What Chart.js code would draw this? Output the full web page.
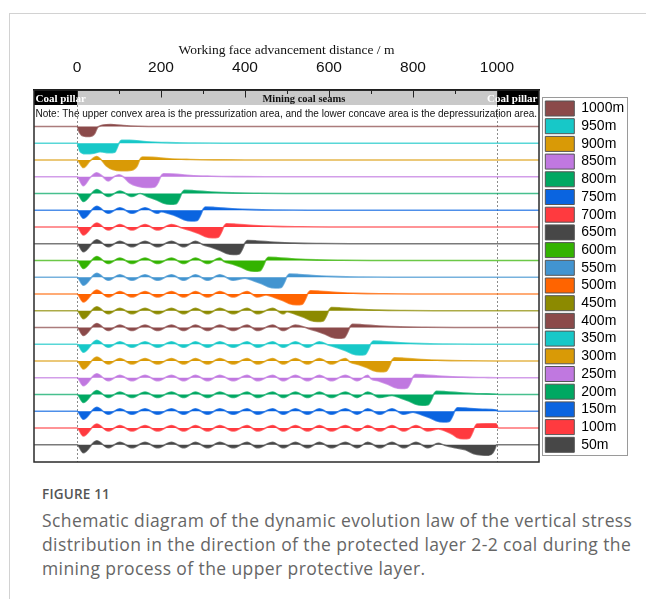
<!DOCTYPE html>
<html>
<head>
<meta charset="utf-8">
<script src="https://cdn.jsdelivr.net/npm/chart.js@4.4.1/dist/chart.umd.min.js"></script>
<style>
  html, body { margin: 0; padding: 0; background: #fff; width: 646px; height: 599px; overflow: hidden; position: relative; }
  #frame { position: absolute; left: 9px; top: 13px; right: -2px; bottom: -2px; border-left: 1px solid #d2d2d2; border-top: 1px solid #d2d2d2; }
  #wrap { position: absolute; left: 0; top: 0; width: 646px; height: 470px; }
  .fig { position: absolute; left: 42px; top: 485px; font: 600 13.5px "Open Sans", sans-serif; color: #555; letter-spacing: 0.2px; }
  .cap { position: absolute; left: 42px; top: 508px; font: 17.5px/24px "Open Sans", sans-serif; color: #666; letter-spacing: 0.4px; white-space: nowrap; }
</style>
</head>
<body>
<div id="frame"></div>
<div id="wrap"><canvas id="c" width="646" height="470"></canvas></div>
<div class="fig">FIGURE 11</div>
<div class="cap">Schematic diagram of the dynamic evolution law of the vertical stress<br>distribution in the direction of the protected layer 2-2 coal during the<br>mining process of the upper protective layer.</div>
<script>
// Legend entries, top to bottom
const legendLabels = ['1000m','950m','900m','850m','800m','750m','700m','650m','600m','550m',
                      '500m','450m','400m','350m','300m','250m','200m','150m','100m','50m'];

// Horizontal axis (advance distance, m)
const distanceRange = [-102.4, 1100];
const axisTicks = [0, 100, 200, 300, 400, 500, 600, 700, 800, 900, 1000];

// Vertical stress profiles along the seam: [distance m, stress change] (+ = pressurization, - = depressurization)
const p1000m = [[-102,0],[0,0],[6,-6],[15,-9.5],[30,-10],[42,-7],[48,-1.5],[52,0],[62,1.5],[80,2],[110,1],[145,0.3],[200,0],[1100,0]];
const p950m = [[-102,0],[0,0],[7,-8],[20,-10.5],[40,-10],[55,-8.5],[75,-9.5],[90,-9],[96,-4],[100,0],[106,3],[125,3],[165,1.5],[215,0.6],[280,0.2],[350,0],[1100,0]];
const p900m = [[-102,0],[0,0],[15,-7.5],[31,-1],[47,3.5],[58,0],[70,-6],[85,-9.5],[105,-10.8],[130,-10.2],[143,-6],[149,0],[156,3],[180,2.8],[220,1.2],[270,0.5],[330,0.15],[400,0],[1100,0]];
const p850m = [[-102,0],[0,0],[15,-9],[31,-1],[47,4],[62,0],[74,-4.3],[88,0],[100,2],[110,0],[125,-6],[145,-9.5],[165,-10.8],[185,-10.2],[194,-5],[199,0],[206,3],[230,2.8],[270,1.2],[320,0.5],[380,0.15],[450,0],[1100,0]];
const p800m = [[-102,0],[0,0],[15,-8],[47,4],[74,-3],[102,2.5],[131,-3],[150,0],[170,-3.5],[190,-6.5],[205,-9.5],[222,-10.8],[236,-10.2],[244,-5],[249,0],[256,3.2],[278,2.8],[320,1.5],[370,0.6],[430,0.2],[500,0],[1100,0]];
const p750m = [[-102,0],[0,0],[15,-8],[47,4],[74,-3],[102,2.5],[131,-3],[162,2.5],[192,-3],[200,-1.5],[220,-3.5],[240,-6.5],[255,-9.5],[272,-10.8],[286,-10.2],[294,-5],[299,0],[306,3.2],[328,2.8],[370,1.5],[420,0.6],[480,0.2],[550,0],[1100,0]];
const p700m = [[-102,0],[0,0],[15,-8],[47,4],[74,-3],[102,2.5],[131,-3],[162,2.5],[192,-3],[225,2.5],[250,-1],[270,-3.5],[290,-6.5],[305,-9.5],[322,-10.8],[336,-10.2],[344,-5],[349,0],[356,3.2],[378,2.8],[420,1.5],[470,0.6],[530,0.2],[600,0],[1100,0]];
const p650m = [[-102,0],[0,0],[15,-8],[47,4],[74,-3],[102,2.5],[131,-3],[162,2.5],[192,-3],[225,2.5],[254,-3],[282,2.5],[300,-1],[320,-3.5],[340,-6.5],[355,-9.5],[372,-10.8],[386,-10.2],[394,-5],[399,0],[406,3.2],[428,2.8],[470,1.5],[520,0.6],[580,0.2],[650,0],[1100,0]];
const p600m = [[-102,0],[0,0],[15,-8],[47,4],[74,-3],[102,2.5],[131,-3],[162,2.5],[192,-3],[225,2.5],[254,-3],[282,2.5],[311,-3],[340,2.5],[350,-1],[370,-3.5],[390,-6.5],[405,-9.5],[422,-10.8],[436,-10.2],[444,-5],[449,0],[456,3.2],[478,2.8],[520,1.5],[570,0.6],[630,0.2],[700,0],[1100,0]];
const p550m = [[-102,0],[0,0],[15,-8],[47,4],[74,-3],[102,2.5],[131,-3],[162,2.5],[192,-3],[225,2.5],[254,-3],[282,2.5],[311,-3],[340,2.5],[372,-3],[400,-1],[420,-3.5],[440,-6.5],[455,-9.5],[472,-10.8],[486,-10.2],[494,-5],[499,0],[506,3.2],[528,2.8],[570,1.5],[620,0.6],[680,0.2],[750,0],[1100,0]];
const p500m = [[-102,0],[0,0],[15,-8],[47,4],[74,-3],[102,2.5],[131,-3],[162,2.5],[192,-3],[225,2.5],[254,-3],[282,2.5],[311,-3],[340,2.5],[372,-3],[405,2.5],[430,-3],[450,-1],[470,-3.5],[490,-6.5],[505,-9.5],[522,-10.8],[536,-10.2],[544,-5],[549,0],[556,3.2],[578,2.8],[620,1.5],[670,0.6],[730,0.2],[800,0],[1100,0]];
const p450m = [[-102,0],[0,0],[15,-8],[47,4],[74,-3],[102,2.5],[131,-3],[162,2.5],[192,-3],[225,2.5],[254,-3],[282,2.5],[311,-3],[340,2.5],[372,-3],[405,2.5],[430,-3],[466,2.5],[491,-3],[500,-1],[520,-3.5],[540,-6.5],[555,-9.5],[572,-10.8],[586,-10.2],[594,-5],[599,0],[606,3.2],[628,2.8],[670,1.5],[720,0.6],[780,0.2],[850,0],[1100,0]];
const p400m = [[-102,0],[0,0],[15,-8],[47,4],[74,-3],[102,2.5],[131,-3],[162,2.5],[192,-3],[225,2.5],[254,-3],[282,2.5],[311,-3],[340,2.5],[372,-3],[405,2.5],[430,-3],[466,2.5],[491,-3],[520,2.5],[550,-1],[570,-3.5],[590,-6.5],[605,-9.5],[622,-10.8],[636,-10.2],[644,-5],[649,0],[656,3.2],[678,2.8],[720,1.5],[770,0.6],[830,0.2],[900,0],[1100,0]];
const p350m = [[-102,0],[0,0],[15,-8],[47,4],[74,-3],[102,2.5],[131,-3],[162,2.5],[192,-3],[225,2.5],[254,-3],[282,2.5],[311,-3],[340,2.5],[372,-3],[405,2.5],[430,-3],[466,2.5],[491,-3],[520,2.5],[549,-3],[577,2.5],[600,-1],[620,-3.5],[640,-6.5],[655,-9.5],[672,-10.8],[686,-10.2],[694,-5],[699,0],[706,3.2],[728,2.8],[770,1.5],[820,0.6],[880,0.2],[950,0],[1100,0]];
const p300m = [[-102,0],[0,0],[15,-8],[47,4],[74,-3],[102,2.5],[131,-3],[162,2.5],[192,-3],[225,2.5],[254,-3],[282,2.5],[311,-3],[340,2.5],[372,-3],[405,2.5],[430,-3],[466,2.5],[491,-3],[520,2.5],[549,-3],[577,2.5],[606,-3],[639,2.5],[650,-1],[670,-3.5],[690,-6.5],[705,-9.5],[722,-10.8],[736,-10.2],[744,-5],[749,0],[756,3.2],[778,2.8],[820,1.5],[870,0.6],[930,0.2],[1000,0],[1100,0]];
const p250m = [[-102,0],[0,0],[15,-8],[47,4],[74,-3],[102,2.5],[131,-3],[162,2.5],[192,-3],[225,2.5],[254,-3],[282,2.5],[311,-3],[340,2.5],[372,-3],[405,2.5],[430,-3],[466,2.5],[491,-3],[520,2.5],[549,-3],[577,2.5],[606,-3],[639,2.5],[668,-3],[692,2.5],[700,-1],[720,-3.5],[740,-6.5],[755,-9.5],[772,-10.8],[786,-10.2],[794,-5],[799,0],[806,3.2],[828,2.8],[870,1.5],[920,0.6],[970,0.2],[1000,0],[1100,0]];
const p200m = [[-102,0],[0,0],[15,-8],[47,4],[74,-3],[102,2.5],[131,-3],[162,2.5],[192,-3],[225,2.5],[254,-3],[282,2.5],[311,-3],[340,2.5],[372,-3],[405,2.5],[430,-3],[466,2.5],[491,-3],[520,2.5],[549,-3],[577,2.5],[606,-3],[639,2.5],[668,-3],[692,2.5],[721,-3],[750,-1],[770,-3.5],[790,-6.5],[805,-9.5],[822,-10.8],[836,-10.2],[844,-5],[849,0],[856,3.2],[878,2.8],[920,1.5],[960,0.7],[1000,0.3],[1004,0],[1100,0]];
const p150m = [[-102,0],[0,0],[15,-8],[47,4],[74,-3],[102,2.5],[131,-3],[162,2.5],[192,-3],[225,2.5],[254,-3],[282,2.5],[311,-3],[340,2.5],[372,-3],[405,2.5],[430,-3],[466,2.5],[491,-3],[520,2.5],[549,-3],[577,2.5],[606,-3],[639,2.5],[668,-3],[692,2.5],[721,-3],[750,2.5],[778,-3],[800,-1],[820,-3.5],[840,-6.5],[855,-9.5],[872,-10.8],[886,-10.2],[894,-5],[899,0],[906,3.4],[930,3],[965,2],[998,1.2],[1003,0],[1100,0]];
const p100m = [[-102,0],[0,0],[15,-8],[47,4],[74,-3],[102,2.5],[131,-3],[162,2.5],[192,-3],[225,2.5],[254,-3],[282,2.5],[311,-3],[340,2.5],[372,-3],[405,2.5],[430,-3],[466,2.5],[491,-3],[520,2.5],[549,-3],[577,2.5],[606,-3],[639,2.5],[668,-3],[692,2.5],[721,-3],[750,2.5],[778,-3],[807,2.5],[836,-3],[860,-1],[880,-3.5],[895,-6.5],[905,-9.5],[920,-10.8],[934,-10.2],[941,-5],[946,0],[952,4],[975,4.3],[998,4.2],[1003,0],[1100,0]];
const p50m = [[-102,0],[0,0],[15,-8],[47,4],[74,-3],[102,2.5],[131,-3],[162,2.5],[192,-3],[225,2.5],[254,-3],[282,2.5],[311,-3],[340,2.5],[372,-3],[405,2.5],[430,-3],[466,2.5],[491,-3],[520,2.5],[549,-3],[577,2.5],[606,-3],[639,2.5],[668,-3],[692,2.5],[721,-3],[750,2.5],[778,-3],[807,2.5],[836,-3],[860,1.5],[875,-0.5],[900,-3],[925,-5],[945,-9],[962,-10.3],[980,-10.5],[990,-8],[995,-4],[999,0],[1100,0]];

const profiles = [p1000m, p950m, p900m, p850m, p800m, p750m, p700m, p650m, p600m, p550m,
                  p500m, p450m, p400m, p350m, p300m, p250m, p200m, p150m, p100m, p50m];

// Series colours
const palette = ['#8b4a4a','#17c8c8','#d99a06','#c078e0','#00a862','#0a64e0','#ff3a3f','#474747','#33b300','#4294d0',
                 '#ff6400','#8c8a00','#8b4a4a','#17c8c8','#d99a06','#c078e0','#00a862','#0a64e0','#ff3a3f','#474747'];

// Each profile sits on its own baseline, stacked downwards
const yRange = [0, 372];
const firstBaseline = 335.5;
const rowGap = 16.75;

function fade(hex, a) {
  const n = parseInt(hex.slice(1), 16);
  return `rgba(${(n >> 16) & 255},${(n >> 8) & 255},${n & 255},${a})`;
}

const datasets = profiles.map((pts, i) => {
  const base = firstBaseline - i * rowGap;
  return {
    label: legendLabels[i],
    data: pts.map(([x, s]) => ({ x, y: base + s })),
    borderColor: fade(palette[i], 0.72),
    backgroundColor: palette[i],
    borderWidth: 1.6,
    pointRadius: 0,
    cubicInterpolationMode: 'monotone',
    fill: { value: base }
  };
});

// Seam strip, note, face limits and frame around the plot
const seamDecor = {
  id: 'seamDecor',
  afterLayout(chart) {
    const lg = chart.legend;
    const w = lg.right - lg.left;
    lg.left = 542.6; lg.right = lg.left + w;
    lg.top = 98.3; lg.bottom = chart.height;
  },
  beforeDatasetsDraw(chart) {
    const { ctx, chartArea: a, scales: { x } } = chart;
    const x0 = x.getPixelForValue(0), x1 = x.getPixelForValue(1000);
    ctx.save();
    // coal pillar / seam strip
    ctx.fillStyle = '#000';
    ctx.fillRect(a.left, a.top, a.right - a.left, 15);
    ctx.fillStyle = '#c9c9c9';
    ctx.fillRect(x0, a.top + 0.8, x1 - x0, 14.2);
    ctx.font = 'bold 11px "Liberation Serif"';
    ctx.textBaseline = 'alphabetic';
    ctx.fillStyle = '#fff';
    ctx.textAlign = 'left';
    ctx.fillText('Coal pillar', a.left + 1.5, a.top + 11.5);
    ctx.textAlign = 'right';
    ctx.fillText('Coal pillar', a.right - 1.5, a.top + 11.5);
    ctx.fillStyle = '#111';
    ctx.textAlign = 'center';
    ctx.font = 'bold 10.5px "Liberation Serif"';
    ctx.fillText('Mining coal seams', x.getPixelForValue(540), a.top + 11.5);
    // tick marks pointing into the strip
    ctx.strokeStyle = '#222';
    ctx.lineWidth = 1;
    axisTicks.forEach(v => {
      const px = Math.round(x.getPixelForValue(v)) + 0.5;
      ctx.beginPath();
      ctx.moveTo(px, a.top);
      ctx.lineTo(px, a.top + (v % 200 === 0 ? 7.5 : 4));
      ctx.stroke();
    });
    // note line
    const note = 'Note: The upper convex area is the pressurization area, and the lower concave area is the depressurization area.';
    ctx.font = '10px "Liberation Sans"';
    const size = 10 * 502 / ctx.measureText(note).width;
    ctx.font = size.toFixed(2) + 'px "Liberation Sans"';
    ctx.textAlign = 'left';
    ctx.textBaseline = 'middle';
    ctx.fillStyle = '#111';
    ctx.fillText(note, a.left + 1.5, a.top + 24.5);
    // face start / end limits
    ctx.strokeStyle = '#8c8c8c';
    ctx.setLineDash([2, 2]);
    [x0, x1].forEach(px => {
      ctx.beginPath();
      ctx.moveTo(Math.round(px) + 0.5, a.top + 15);
      ctx.lineTo(Math.round(px) + 0.5, a.bottom);
      ctx.stroke();
    });
    ctx.restore();
  },
  afterDraw(chart) {
    const { ctx, chartArea: a, legend } = chart;
    ctx.save();
    ctx.strokeStyle = '#2a2a2a';
    ctx.lineWidth = 1.5;
    ctx.strokeRect(a.left, a.top, a.right - a.left, a.bottom - a.top);
    ctx.strokeStyle = '#9a9a9a';
    ctx.lineWidth = 1;
    ctx.strokeRect(Math.round(legend.left) - 0.5, 97.5, 85, 358);
    ctx.restore();
  }
};

Chart.defaults.font.family = '"Liberation Sans", Arial, sans-serif';

new Chart(document.getElementById('c'), {
  type: 'line',
  data: { datasets },
  options: {
    responsive: false,
    animation: false,
    devicePixelRatio: 1,
    layout: { padding: { left: 34, right: 17, top: 41.9, bottom: 8 } },
    scales: {
      x: {
        type: 'linear',
        position: 'top',
        min: distanceRange[0],
        max: distanceRange[1],
        afterBuildTicks: s => { s.ticks = axisTicks.map(v => ({ value: v })); },
        afterFit: s => { s.height = 48.1; },
        ticks: {
          autoSkip: false,
          maxRotation: 0,
          padding: 12.7,
          color: '#111',
          font: { size: 15.5 },
          callback: v => (v % 200 === 0 ? String(v) : '')
        },
        grid: { display: false, drawTicks: false },
        border: { display: true, color: '#000', width: 1.5 },
        title: {
          display: true,
          text: 'Working face advancement distance / m',
          color: '#111',
          font: { family: '"Liberation Serif"', size: 13.5 },
          padding: { top: 0, bottom: 0.6 }
        }
      },
      y: { type: 'linear', display: false, min: yRange[0], max: yRange[1] }
    },
    plugins: {
      tooltip: { enabled: false },
      legend: {
        position: 'right',
        align: 'start',
        maxWidth: 90,
        labels: {
          boxWidth: 29,
          boxHeight: 15,
          padding: 2.7,
          color: '#111',
          font: { size: 14 },
          generateLabels: chart => chart.data.datasets.map((d, i) => ({
            text: d.label,
            fillStyle: d.backgroundColor,
            strokeStyle: '#555',
            lineWidth: 1,
            hidden: false,
            datasetIndex: i
          }))
        }
      }
    }
  },
  plugins: [seamDecor]
});
</script>
</body>
</html>
